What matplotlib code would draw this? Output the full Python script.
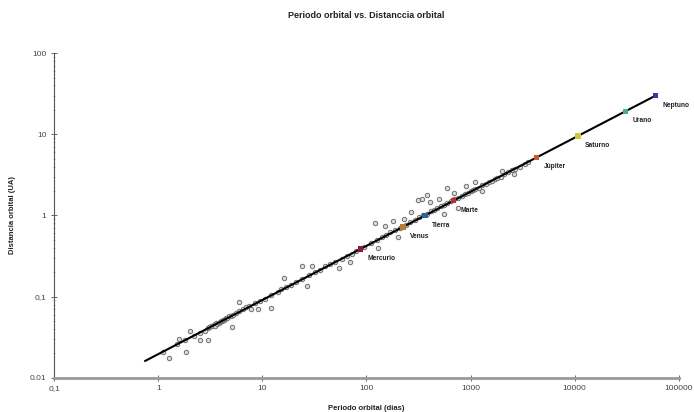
import matplotlib
matplotlib.use("Agg")
import matplotlib.pyplot as plt
import numpy as np

plt.rcParams['font.family'] = ['Liberation Sans', 'DejaVu Sans']

# small bodies (gray circles): period in days, distance in AU
periods = [1.1, 1.5, 1.8, 2.2, 2.5, 2.8, 3.0, 3.1, 3.2, 3.3, 3.4, 3.5, 3.5, 3.6, 3.7,
           3.8, 3.9, 4.0, 4.1, 4.2, 4.3, 4.4, 4.5, 4.6, 4.8, 5.0, 5.2, 5.6, 6.0, 6.5,
           7.0, 7.5, 8.5, 9.5, 10.5, 12, 14, 15, 17, 19, 21, 24, 28, 32, 36, 40, 45,
           50, 58, 65, 72, 80, 95, 110, 125, 140, 155, 170, 190, 210, 240, 260, 290,
           320, 350, 380, 420, 450, 480, 520, 560, 600, 650, 700, 760, 820, 880, 950,
           1000, 1050, 1100, 1200, 1300, 1400, 1500, 1600, 1700, 1800, 1950, 2100,
           2300, 2500, 2700, 3000, 3300, 3600,
           1.28, 1.86, 2.53, 3.0, 5.1, 7.7, 12, 23.8, 27, 55, 120, 150, 180, 310, 340,
           380, 410, 560, 700, 600, 900, 1100, 760, 1.6, 2.0, 6, 9, 16, 30, 70, 130,
           200, 230, 270, 500, 1300, 2000, 2600]
distances = [0.021, 0.026, 0.029, 0.033, 0.036, 0.038, 0.041, 0.042, 0.043, 0.044,
             0.045, 0.046, 0.044, 0.047, 0.046, 0.048, 0.049, 0.050, 0.050, 0.051,
             0.052, 0.053, 0.055, 0.054, 0.057, 0.058, 0.060, 0.062, 0.066, 0.070,
             0.074, 0.077, 0.083, 0.089, 0.094, 0.104, 0.115, 0.125, 0.13, 0.14, 0.15,
             0.165, 0.185, 0.2, 0.215, 0.24, 0.255, 0.27, 0.29, 0.32, 0.34, 0.37, 0.41,
             0.46, 0.5, 0.54, 0.58, 0.62, 0.66, 0.7, 0.77, 0.82, 0.88, 0.95, 1.0, 1.05,
             1.12, 1.18, 1.22, 1.3, 1.36, 1.42, 1.5, 1.58, 1.65, 1.75, 1.82, 1.9, 2.0,
             2.05, 2.1, 2.2, 2.35, 2.45, 2.55, 2.65, 2.8, 2.9, 3.0, 3.2, 3.4, 3.6, 3.75,
             4.0, 4.3, 4.5,
             0.0176, 0.0209, 0.0294, 0.0294, 0.0425, 0.0697, 0.0723, 0.24, 0.137, 0.226,
             0.81, 0.75, 0.85, 1.55, 1.6, 1.8, 1.45, 1.04, 1.9, 2.2, 2.3, 2.6, 1.25,
             0.03, 0.038, 0.085, 0.07, 0.17, 0.24, 0.27, 0.4, 0.55, 0.9, 1.1, 1.6, 2.0,
             3.5, 3.2]

# planets
planet_names = ["Mercurio", "Venus", "Tierra", "Marte", "Júpiter", "Saturno", "Urano", "Neptuno"]
planet_periods = [88, 224.7, 365.25, 687, 4333, 10759, 30687, 60190]
planet_dist = [0.387, 0.723, 1.0, 1.524, 5.2, 9.54, 19.2, 30.1]
planet_colors = ["#8b1a3a", "#b08030", "#3060a0", "#c03030", "#c05a30", "#c8c838", "#40b0a0", "#3838a0"]

# Kepler fit line
fit_periods = [0.75, 60190]
fit_dist = [(p / 365.25) ** (2 / 3) for p in fit_periods]

fig = plt.figure(figsize=(6.94, 4.12), dpi=100)
ax = fig.add_axes([0.078, 0.083, 0.9, 0.788])

ax.scatter(periods, distances, s=10, facecolors='#dddddd', edgecolors='#707070',
           linewidths=0.7, zorder=2)
ax.plot(fit_periods, fit_dist, color='black', lw=1.5, zorder=3)
ax.scatter(planet_periods, planet_dist, s=14, marker='s', c=planet_colors,
           edgecolors='none', zorder=4)
for name, p, d in zip(planet_names, planet_periods, planet_dist):
    ax.annotate(name, (p, d), xytext=(5, -8), textcoords='offset points',
                fontsize=4.8, fontweight='bold', color='#222222')

ax.set_xscale('log')
ax.set_yscale('log')
ax.set_xlim(0.1, 100000)
ax.set_ylim(0.01, 100)

ax.set_xticks([0.1, 1, 10, 100, 1000, 10000, 100000])
ax.set_xticklabels(['0,1', '1', '10', '100', '1000', '10000', '100000'])
ax.set_yticks([0.01, 0.1, 1, 10, 100])
ax.set_yticklabels(['0.01', '0,1', '1', '10', '100'])

for s in ['top', 'right']:
    ax.spines[s].set_visible(False)
ax.spines['left'].set_color('#555555')
ax.spines['bottom'].set_color('#999999')
ax.spines['bottom'].set_linewidth(2)
ax.tick_params(which='major', direction='inout', length=4, width=0.7, colors='#666666',
               labelsize=6, labelcolor='#444444')
ax.tick_params(which='minor', direction='inout', length=2, width=0.5, colors='#888888')

ax.set_title('Periodo orbital vs. Distanccia orbital', fontsize=6.5, fontweight='bold',
             pad=25, color='#222222')
ax.set_xlabel('Periodo orbital (días)', fontsize=5.5, fontweight='bold', labelpad=9, color='#222222')
ax.set_ylabel('Distancia orbital (UA)', fontsize=5.5, fontweight='bold', labelpad=10, color='#222222')

fig.savefig('out.png', dpi=100)
